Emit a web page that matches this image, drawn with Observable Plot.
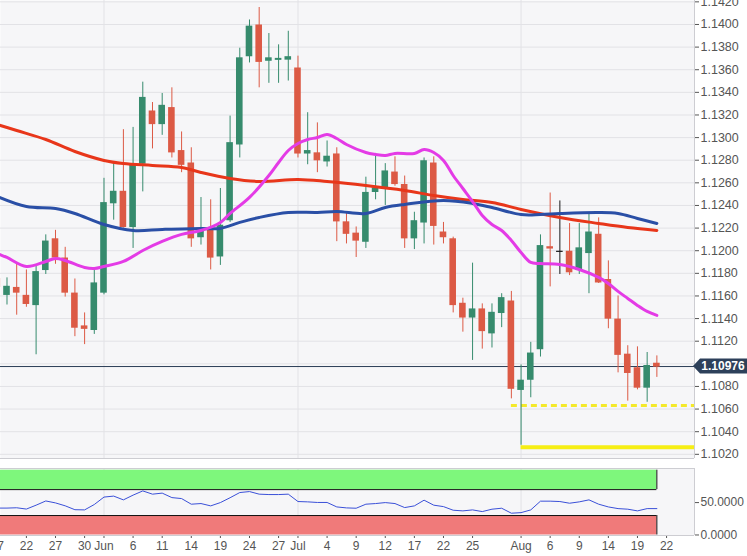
<!DOCTYPE html>
<html><head><meta charset="utf-8">
<script src="https://cdn.jsdelivr.net/npm/d3@7"></script>
<script src="https://cdn.jsdelivr.net/npm/@observablehq/plot@0.6"></script>
<style>
html,body{margin:0;padding:0;background:#fff;}
#chart{width:747px;}
#chart svg{display:block;}
</style></head><body><div id="chart"></div>
<script>
// ---- data (EUR/USD daily) ----
const dates = ["2019-05-17","2019-05-20","2019-05-21","2019-05-22","2019-05-23","2019-05-24","2019-05-27","2019-05-28","2019-05-29","2019-05-30","2019-05-31",
"2019-06-03","2019-06-04","2019-06-05","2019-06-06","2019-06-07","2019-06-10","2019-06-11","2019-06-12","2019-06-13","2019-06-14","2019-06-17","2019-06-18","2019-06-19","2019-06-20","2019-06-21","2019-06-24","2019-06-25","2019-06-26","2019-06-27","2019-06-28",
"2019-07-01","2019-07-02","2019-07-03","2019-07-04","2019-07-05","2019-07-08","2019-07-09","2019-07-10","2019-07-11","2019-07-12","2019-07-15","2019-07-16","2019-07-17","2019-07-18","2019-07-19","2019-07-22","2019-07-23","2019-07-24","2019-07-25","2019-07-26","2019-07-29","2019-07-30","2019-07-31",
"2019-08-01","2019-08-02","2019-08-05","2019-08-06","2019-08-07","2019-08-08","2019-08-09","2019-08-12","2019-08-13","2019-08-14","2019-08-15","2019-08-16","2019-08-19","2019-08-20","2019-08-21"];
const open  = [1.1175,1.1161,1.1167,1.1160,1.1152,1.1183,1.1210,1.1193,1.1162,1.1133,1.1130,
1.1163,1.1242,1.1252,1.1221,1.1277,1.1323,1.1312,1.1326,1.1288,1.1277,1.1212,1.1218,1.1195,1.1227,1.1294,1.1372,1.1399,1.1368,1.13688,1.1369,
1.1361,1.1286,1.1286,1.1279,1.1285,1.1225,1.1215,1.1208,1.1252,1.1256,1.1269,1.1258,1.1211,1.1225,1.1277,1.1216,1.1210,1.1153,1.1141,1.1148,1.1127,1.1145,1.1155,
1.1077,1.1086,1.1113,1.1203,1.1199,1.1199,1.1183,1.1198,1.1214,1.1174,1.1139,1.1108,1.1096,1.1079,1.1100];
const high  = [1.1186,1.1176,1.1189,1.1183,1.1186,1.1214,1.1218,1.1203,1.1175,1.1145,1.1183,
1.1264,1.1277,1.1307,1.1309,1.1349,1.1331,1.1339,1.1344,1.1305,1.1291,1.1247,1.1245,1.1255,1.1319,1.1379,1.1404,1.1415,1.1392,1.1382,1.1394,
1.1372,1.1322,1.1313,1.1297,1.1291,1.1233,1.1221,1.1265,1.1286,1.1277,1.1283,1.1266,1.1234,1.1282,1.1283,1.1225,1.1212,1.1158,1.1189,1.1153,1.1153,1.1162,1.1164,
1.1099,1.1119,1.1214,1.1251,1.1244,1.1224,1.1224,1.1233,1.1229,1.1191,1.1160,1.1116,1.1115,1.1110,1.1107];
const low   = [1.1160,1.1152,1.1143,1.1150,1.1108,1.1179,1.1188,1.1159,1.1124,1.1117,1.1126,
1.1161,1.1227,1.1220,1.1202,1.1252,1.1290,1.1302,1.1282,1.1269,1.1203,1.1205,1.1183,1.1187,1.1225,1.1282,1.1366,1.1344,1.1348,1.1348,1.1350,
1.1282,1.1276,1.1269,1.1274,1.1208,1.1206,1.1194,1.1202,1.1245,1.1240,1.1257,1.1202,1.1201,1.1206,1.1205,1.1206,1.1145,1.1128,1.1103,1.1113,1.1114,1.1132,1.1069,
1.1028,1.1070,1.1106,1.1168,1.1179,1.1178,1.1179,1.1162,1.1171,1.1131,1.1092,1.1067,1.1077,1.1066,1.1088];
const close = [1.1168,1.1168,1.1163,1.1153,1.1181,1.1208,1.1194,1.1163,1.1132,1.1131,1.1171,
1.1242,1.1252,1.1221,1.1275,1.1335,1.1312,1.1328,1.1287,1.1276,1.1211,1.1218,1.1194,1.1222,1.1295,1.1370,1.1398,1.1367,1.1370,1.13695,1.1371,
1.1286,1.1288,1.1280,1.1283,1.1226,1.1215,1.1209,1.1251,1.1255,1.1270,1.1259,1.1211,1.1226,1.1279,1.1222,1.1212,1.1152,1.1141,1.1148,1.1129,1.1145,1.1158,1.1078,
1.1085,1.1109,1.1204,1.1202,1.1199,1.1181,1.1202,1.1216,1.1172,1.1140,1.1108,1.1092,1.1079,1.1098,1.10976];
const rsi   = [41.5,41.5,42,40,46,52.5,49.5,45,39,38.7,47,
58.5,60,54.2,61.5,68,63,64.6,57.7,56.2,47.5,48.5,44.9,50,57.5,65.5,67,63,62.4,62.4,63,
51.6,51.1,50.2,50.2,43.3,41.8,41.3,47.5,48.5,50,48.5,42.3,44.9,53.7,46,43.8,38.2,37.2,38.7,36.1,39.8,41.3,33.6,
34.5,38.7,52.2,52.2,51.6,49,51.1,54.2,47.5,43.3,40.7,39.8,37.2,40.7,40.7];

// moving averages, read at points along each curve
const maPinkDates = ["2019-05-17","2019-05-20","2019-05-22","2019-05-24","2019-05-27","2019-05-28","2019-05-30","2019-05-31","2019-06-03","2019-06-05","2019-06-07","2019-06-11","2019-06-13","2019-06-17","2019-06-19","2019-06-20","2019-06-24","2019-06-26","2019-06-27","2019-06-28","2019-07-01","2019-07-02","2019-07-03","2019-07-04","2019-07-05","2019-07-08","2019-07-10","2019-07-11","2019-07-12","2019-07-15","2019-07-17","2019-07-18","2019-07-19","2019-07-22","2019-07-23","2019-07-24","2019-07-25","2019-07-26","2019-07-29","2019-07-30","2019-07-31","2019-08-01","2019-08-02","2019-08-05","2019-08-07","2019-08-09","2019-08-13","2019-08-14","2019-08-15","2019-08-16","2019-08-19","2019-08-20","2019-08-21"];
const maPinkValues = [1.11976,1.1194,1.11861,1.11905,1.11932,1.11914,1.11852,1.11843,1.11861,1.11905,1.12002,1.12082,1.12144,1.12179,1.1225,1.12329,1.12471,1.12665,1.1278,1.12886,1.12948,1.12983,1.13001,1.13028,1.12992,1.12939,1.12868,1.12851,1.12842,1.1286,1.1286,1.12895,1.12868,1.12798,1.12665,1.1255,1.12435,1.12312,1.12232,1.12179,1.12091,1.11984,1.11896,1.11887,1.11878,1.11834,1.11764,1.1171,1.1164,1.11578,1.11516,1.11463,1.11428];
const maBlueDates = ["2019-05-17","2019-05-22","2019-05-27","2019-05-29","2019-06-03","2019-06-06","2019-06-11","2019-06-17","2019-06-19","2019-06-21","2019-06-25","2019-06-28","2019-07-03","2019-07-05","2019-07-10","2019-07-12","2019-07-16","2019-07-22","2019-07-25","2019-07-29","2019-08-01","2019-08-05","2019-08-07","2019-08-13","2019-08-15","2019-08-19","2019-08-21"];
const maBlueValues = [1.1248,1.12391,1.12373,1.12329,1.12232,1.12179,1.12188,1.12197,1.12197,1.1225,1.12294,1.12338,1.12338,1.12347,1.12329,1.12382,1.12409,1.12444,1.12418,1.12382,1.1232,1.1232,1.12329,1.12338,1.12329,1.12285,1.12241];
const maRedDates = ["2019-05-17","2019-05-21","2019-05-24","2019-05-29","2019-06-03","2019-06-05","2019-06-10","2019-06-13","2019-06-17","2019-06-20","2019-06-25","2019-07-01","2019-07-04","2019-07-10","2019-07-16","2019-07-19","2019-07-24","2019-07-29","2019-08-01","2019-08-07","2019-08-13","2019-08-16","2019-08-21"];
const maRedValues = [1.13116,1.13063,1.12983,1.12877,1.12798,1.12771,1.12754,1.12736,1.12692,1.12639,1.12612,1.1263,1.12612,1.12577,1.12533,1.12488,1.12453,1.12427,1.12365,1.12294,1.12241,1.12205,1.12179];

const supportDates  = ["2019-07-31","2019-08-01"];
const supportValues = [1.10632,1.10263];
const lastPrice = 1.10976;

const tickDates = ["2019-05-17","2019-05-22","2019-05-27","2019-05-30","2019-06-03","2019-06-06","2019-06-11","2019-06-14","2019-06-19","2019-06-24","2019-06-27","2019-07-01","2019-07-04","2019-07-09","2019-07-12","2019-07-17","2019-07-22","2019-07-25","2019-08-01","2019-08-06","2019-08-09","2019-08-14","2019-08-19","2019-08-22"];
const tickText  = ["17","22","27","30","Jun","6","11","14","19","24","27","Jul","4","9","12","17","22","25","Aug","6","9","14","19","22"];
const monthStarts = ["2019-06-03","2019-07-01","2019-08-01"];
const obLevel = 70, osLevel = 30;

// ---- helpers ----
const t0 = new Date(dates[0] + "T00:00Z");
function biz(s) {
  const d = new Date(s + "T00:00Z");
  return d3.utcDay.range(t0, d).filter(t => t.getUTCDay() % 6 !== 0).length;
}
const candles = dates.map((d, i) => ({k: biz(d), o: open[i], h: high[i], l: low[i], c: close[i]}));
const rsiData = dates.map((d, i) => ({k: biz(d), v: rsi[i]}));
const ma = (ds, vs) => ds.map((d, i) => ({k: biz(d), v: vs[i]}));
const maPink = ma(maPinkDates, maPinkValues), maBlue = ma(maBlueDates, maBlueValues), maRed = ma(maRedDates, maRedValues);
const supports = supportDates.map((d, i) => ({k: biz(d), v: supportValues[i]}));
const tickIdx = tickDates.map(biz);
const tickMap = new Map(tickIdx.map((k, i) => [k, tickText[i]]));
const monthIdx = monthStarts.map(biz);
const lastK = candles[candles.length - 1].k;

const UP = "#368b6d", DOWN = "#dc5a45", FLAT = "#1a1a1a";
const col = d => d.c > d.o ? UP : d.c < d.o ? DOWN : FLAT;
const xDomain = [0.33, 71.88];
const yDomain = [1.10163, 1.14212];
const priceTicks = d3.ticks(1.102, 1.142, 20);
// the tick label hidden under the current-price tag is not drawn
const labelTicks = priceTicks.filter(t => Math.abs(t - lastPrice) > 0.0006);
const font = "Liberation Sans, Arial, sans-serif";
const grid = "#e2e2e6", border = "#cdcdd2", bg = "#f6f6f8";

const main = Plot.plot({
  width: 747, height: 460, marginTop: 0, marginBottom: 2, marginLeft: 0, marginRight: 53,
  style: {fontFamily: font, fontSize: "12.5px", color: "#555", background: "#fff"},
  x: {domain: xDomain, axis: null},
  y: {domain: yDomain, axis: "right", ticks: labelTicks, tickFormat: d3.format(".4f"), tickSize: 4, tickPadding: 2, label: null},
  marks: [
    Plot.frame({fill: bg, stroke: null}),
    Plot.ruleY(priceTicks, {stroke: grid}),
    Plot.ruleX(monthIdx, {stroke: grid}),
    Plot.ruleY([yDomain[0]], {stroke: border}),
    Plot.ruleX([xDomain[1]], {stroke: border}),
    Plot.ruleY(supports.slice(0, 1), {y: "v", x1: "k", x2: () => xDomain[1], stroke: "#f4e92a", strokeWidth: 3, strokeDasharray: "6,4"}),
    Plot.ruleY(supports.slice(1), {y: "v", x1: "k", x2: () => xDomain[1], stroke: "#f6ee14", strokeWidth: 4}),
    Plot.ruleY([lastPrice], {stroke: "#2b3d56", strokeWidth: 1}),
    Plot.ruleX(candles, {x: "k", y1: "l", y2: "h", stroke: col, strokeWidth: 1, clip: true}),
    Plot.rect(candles, {x1: d => d.k - 0.34, x2: d => d.k + 0.34, y1: d => Math.min(d.o, d.c), y2: d => Math.max(d.o, d.c),
      fill: col, insetTop: -0.6, insetBottom: -0.6, clip: true}),
    Plot.line(maRed, {x: "k", y: "v", stroke: "#e8361a", strokeWidth: 3, curve: "catmull-rom", clip: true}),
    Plot.line(maBlue, {x: "k", y: "v", stroke: "#2a4fa6", strokeWidth: 3, curve: "catmull-rom", clip: true}),
    Plot.line(maPink, {x: "k", y: "v", stroke: "#e43be6", strokeWidth: 3, curve: "catmull-rom", clip: true})
  ]
});

const lower = Plot.plot({
  width: 747, height: 96, marginTop: 8, marginBottom: 21, marginLeft: 0, marginRight: 53,
  style: {fontFamily: font, fontSize: "12px", color: "#555", background: "#fff"},
  x: {domain: xDomain, axis: "bottom", ticks: tickIdx, tickFormat: k => tickMap.get(k), tickSize: 3, tickPadding: 3, label: null},
  y: {domain: [-0.8, 102.6], axis: "right", ticks: [0, 50], tickFormat: d3.format(".4f"), tickSize: 4, tickPadding: 2, label: null},
  marks: [
    Plot.frame({fill: bg, stroke: null}),
    Plot.ruleX(monthIdx, {stroke: grid}),
    Plot.rect([0], {x1: candles[0].k, x2: lastK, y1: obLevel, y2: 100, fill: "#7ef77c", clip: true}),
    Plot.rect([0], {x1: candles[0].k, x2: lastK, y1: 0, y2: osLevel, fill: "#f07a7a", clip: true}),
    Plot.ruleY([obLevel, osLevel], {x1: candles[0].k, x2: lastK, stroke: "#111", strokeWidth: 1, clip: true}),
    Plot.ruleX([lastK], {y1: obLevel, y2: 100, stroke: "#111"}),
    Plot.ruleX([lastK], {y1: 0, y2: osLevel, stroke: "#111"}),
    Plot.line(rsiData, {x: "k", y: "v", stroke: "#3a50d8", strokeWidth: 1, clip: true}),
    Plot.ruleY([-0.8, 102.6], {stroke: border}),
    Plot.ruleX([xDomain[1]], {stroke: border})
  ]
});

const chart = document.getElementById("chart");
chart.append(main, lower);

// current price tag on the right axis
const sy = main.scale("y").apply(lastPrice);
const sx = main.scale("x").apply(xDomain[1]);
const tag = d3.select(main).append("g");
tag.append("path")
  .attr("d", `M${sx - 1},${sy} L${sx + 6},${sy - 7.5} L747,${sy - 7.5} L747,${sy + 7.5} L${sx + 6},${sy + 7.5} Z`)
  .attr("fill", "#2d405a");
tag.append("text")
  .attr("x", sx + 29).attr("y", sy).attr("dy", "0.36em")
  .attr("text-anchor", "middle").attr("fill", "#fff")
  .attr("font-family", font).attr("font-weight", "bold").attr("font-size", "12px")
  .text(d3.format(".5f")(lastPrice));
</script></body></html>
